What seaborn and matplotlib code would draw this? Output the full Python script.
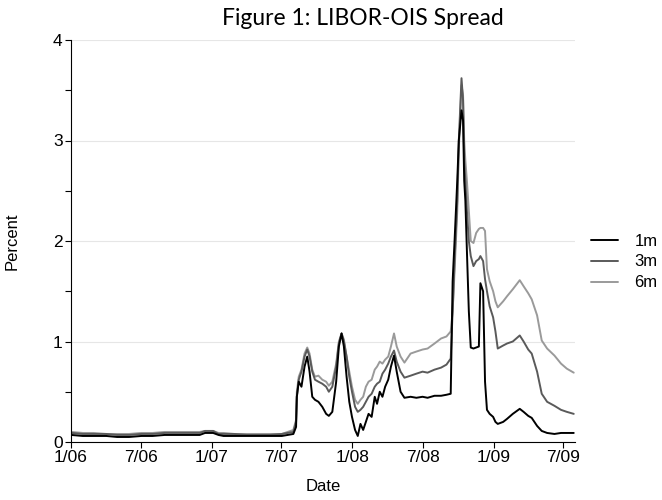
import seaborn as sns
import matplotlib.pyplot as plt
import matplotlib.dates as mdates
from matplotlib.ticker import FuncFormatter, MultipleLocator
import pandas as pd

# values (percent)
dates = [
    '2006-01-03', '2006-02-01', '2006-03-01', '2006-04-03', '2006-05-01', '2006-06-01',
    '2006-07-03', '2006-08-01', '2006-09-01', '2006-10-02', '2006-11-01', '2006-12-01',
    '2006-12-15', '2007-01-05', '2007-01-19', '2007-02-01', '2007-03-01', '2007-04-02',
    '2007-05-01', '2007-06-01', '2007-07-02', '2007-08-01', '2007-08-08', '2007-08-10',
    '2007-08-15', '2007-08-22', '2007-08-30', '2007-09-06', '2007-09-12', '2007-09-19',
    '2007-09-26', '2007-10-05', '2007-10-15', '2007-10-25', '2007-11-01', '2007-11-10',
    '2007-11-20', '2007-11-27', '2007-12-04', '2007-12-10', '2007-12-17', '2007-12-24',
    '2007-12-31', '2008-01-08', '2008-01-15', '2008-01-22', '2008-01-29', '2008-02-05',
    '2008-02-12', '2008-02-20', '2008-02-28', '2008-03-05', '2008-03-12', '2008-03-19',
    '2008-03-26', '2008-04-03', '2008-04-10', '2008-04-18', '2008-04-25', '2008-05-05',
    '2008-05-15', '2008-05-31', '2008-06-15', '2008-07-01', '2008-07-14', '2008-08-01',
    '2008-08-18', '2008-09-01', '2008-09-12', '2008-09-17', '2008-09-22', '2008-09-29',
    '2008-10-03', '2008-10-10', '2008-10-14', '2008-10-17', '2008-10-20', '2008-10-24',
    '2008-10-29', '2008-11-03', '2008-11-10', '2008-11-17', '2008-11-24', '2008-11-28',
    '2008-12-05', '2008-12-10', '2008-12-15', '2008-12-22', '2008-12-31', '2009-01-06',
    '2009-01-12', '2009-01-26', '2009-02-05', '2009-02-20', '2009-03-10', '2009-03-20',
    '2009-04-01', '2009-04-10', '2009-04-24', '2009-05-06', '2009-05-20', '2009-06-08',
    '2009-06-25', '2009-07-10', '2009-07-28',
]
spread_1m = [
    0.07, 0.06, 0.06, 0.06, 0.05, 0.05,
    0.06, 0.06, 0.07, 0.07, 0.07, 0.07,
    0.09, 0.09, 0.07, 0.06, 0.06, 0.06,
    0.06, 0.06, 0.06, 0.08, 0.15, 0.45,
    0.60, 0.55, 0.75, 0.85, 0.70, 0.45,
    0.42, 0.40, 0.35, 0.28, 0.26, 0.30,
    0.60, 0.95, 1.08, 0.95, 0.65, 0.40,
    0.25, 0.12, 0.06, 0.18, 0.12, 0.20,
    0.28, 0.25, 0.45, 0.38, 0.50, 0.45,
    0.55, 0.62, 0.75, 0.86, 0.70, 0.50,
    0.44, 0.45, 0.44, 0.45, 0.44, 0.46,
    0.46, 0.47, 0.48, 1.60, 2.00, 2.60,
    3.00, 3.30, 3.20, 2.60, 2.40, 1.90,
    1.30, 0.94, 0.93, 0.94, 0.95, 1.58,
    1.50, 0.60, 0.32, 0.28, 0.25, 0.20,
    0.18, 0.20, 0.23, 0.28, 0.33, 0.30,
    0.26, 0.24, 0.16, 0.11, 0.09, 0.08,
    0.09, 0.09, 0.09,
]
spread_3m = [
    0.09, 0.08, 0.08, 0.08, 0.07, 0.07,
    0.08, 0.08, 0.09, 0.09, 0.09, 0.09,
    0.11, 0.11, 0.08, 0.08, 0.08, 0.07,
    0.07, 0.07, 0.08, 0.10, 0.20, 0.45,
    0.62, 0.70, 0.85, 0.92, 0.85, 0.70,
    0.62, 0.60, 0.58, 0.55, 0.50, 0.55,
    0.75, 0.98, 1.08, 1.00, 0.85, 0.65,
    0.50, 0.35, 0.30, 0.32, 0.35, 0.40,
    0.45, 0.48, 0.55, 0.58, 0.60, 0.68,
    0.72, 0.78, 0.85, 0.91, 0.80, 0.70,
    0.64, 0.66, 0.68, 0.70, 0.69, 0.72,
    0.74, 0.77, 0.83, 1.30, 1.80, 2.40,
    3.00, 3.62, 3.40, 2.80, 2.60, 2.30,
    2.00, 1.85, 1.75, 1.80, 1.82, 1.85,
    1.80, 1.62, 1.50, 1.35, 1.24, 1.10,
    0.93, 0.96, 0.98, 1.00, 1.06, 1.00,
    0.92, 0.88, 0.70, 0.48, 0.40, 0.36,
    0.32, 0.30, 0.28,
]
spread_6m = [
    0.10, 0.09, 0.09, 0.08, 0.08, 0.08,
    0.09, 0.09, 0.10, 0.10, 0.10, 0.10,
    0.11, 0.11, 0.09, 0.09, 0.08, 0.08,
    0.08, 0.08, 0.08, 0.12, 0.22, 0.50,
    0.65, 0.72, 0.88, 0.94, 0.88, 0.72,
    0.65, 0.66, 0.62, 0.60, 0.56, 0.60,
    0.78, 1.00, 1.08, 1.02, 0.85, 0.70,
    0.55, 0.42, 0.38, 0.42, 0.45, 0.55,
    0.60, 0.62, 0.72, 0.75, 0.80, 0.78,
    0.82, 0.85, 0.95, 1.08, 0.95, 0.85,
    0.79, 0.88, 0.90, 0.92, 0.93, 0.98,
    1.03, 1.05, 1.10, 1.30, 1.70, 2.30,
    2.90, 3.55, 3.45, 3.00, 2.80, 2.60,
    2.30, 2.00, 1.98, 2.08, 2.12, 2.13,
    2.13, 2.10, 1.72, 1.60, 1.50, 1.40,
    1.34, 1.40, 1.45, 1.52, 1.61, 1.55,
    1.48, 1.42, 1.26, 1.01, 0.93, 0.86,
    0.78, 0.73, 0.69,
]
series_names = ['1m', '3m', '6m']
series_colors = ['#000000', '#5a5a5a', '#9a9a9a']

df = pd.DataFrame({'Date': pd.to_datetime(dates), '1m': spread_1m, '3m': spread_3m, '6m': spread_6m})
long_df = df.melt(id_vars='Date', var_name='Tenor', value_name='Percent')

sns.set_theme(style='white')
plt.rcParams['font.family'] = ['Liberation Sans', 'DejaVu Sans']
plt.rcParams['font.sans-serif'] = ['Liberation Sans', 'DejaVu Sans']
plt.rcParams['text.color'] = 'black'
plt.rcParams['axes.labelcolor'] = 'black'
plt.rcParams['xtick.color'] = 'black'
plt.rcParams['ytick.color'] = 'black'

fig = plt.figure(figsize=(6.62, 5.0), dpi=100)
ax = fig.add_axes([0.107, 0.116, 0.762, 0.804])

# draw the light lines first so black sits on top
for name, color, z in zip(series_names, series_colors, [3, 2, 1]):
    sns.lineplot(data=long_df[long_df['Tenor'] == name], x='Date', y='Percent',
                 color=color, linewidth=1.4, label=name, ax=ax, zorder=z)

ax.set_ylim(0, 4)
ax.set_xlim(pd.Timestamp('2006-01-01'), pd.Timestamp('2009-08-01'))
ax.yaxis.set_major_locator(MultipleLocator(1))
ax.yaxis.set_minor_locator(MultipleLocator(0.5))
ax.xaxis.set_major_locator(mdates.MonthLocator(bymonth=[1, 7]))
ax.xaxis.set_major_formatter(FuncFormatter(
    lambda v, pos: f"{mdates.num2date(v).month}/{mdates.num2date(v):%y}"))

ax.grid(axis='y', which='major', color='#e6e6e6', linewidth=0.8)
ax.set_axisbelow(True)
for side in ['top', 'right']:
    ax.spines[side].set_visible(False)
for side in ['left', 'bottom']:
    ax.spines[side].set_color('black')
    ax.spines[side].set_linewidth(0.8)
ax.tick_params(axis='both', which='both', direction='out', length=4, width=0.8,
               color='black', labelsize=12.5, pad=2)
ax.tick_params(axis='y', which='both', left=True)
ax.tick_params(axis='x', which='both', bottom=True)

ax.set_xlabel('Date', fontsize=12, labelpad=10)
ax.set_ylabel('Percent', fontsize=12, labelpad=24)
fig.text(0.548, 0.963, 'Figure 1: LIBOR-OIS Spread', ha='center', va='center',
         fontsize=16.5, family=['Lato', 'DejaVu Sans'])

ax.get_legend().remove()
handles, labels = ax.get_legend_handles_labels()
fig.legend(handles, labels, loc='center left', bbox_to_anchor=(0.87, 0.476), frameon=False,
           fontsize=12, handlelength=1.6, handletextpad=1.0, labelspacing=0.35)

fig.savefig('out.png', dpi=100)
plt.close(fig)
